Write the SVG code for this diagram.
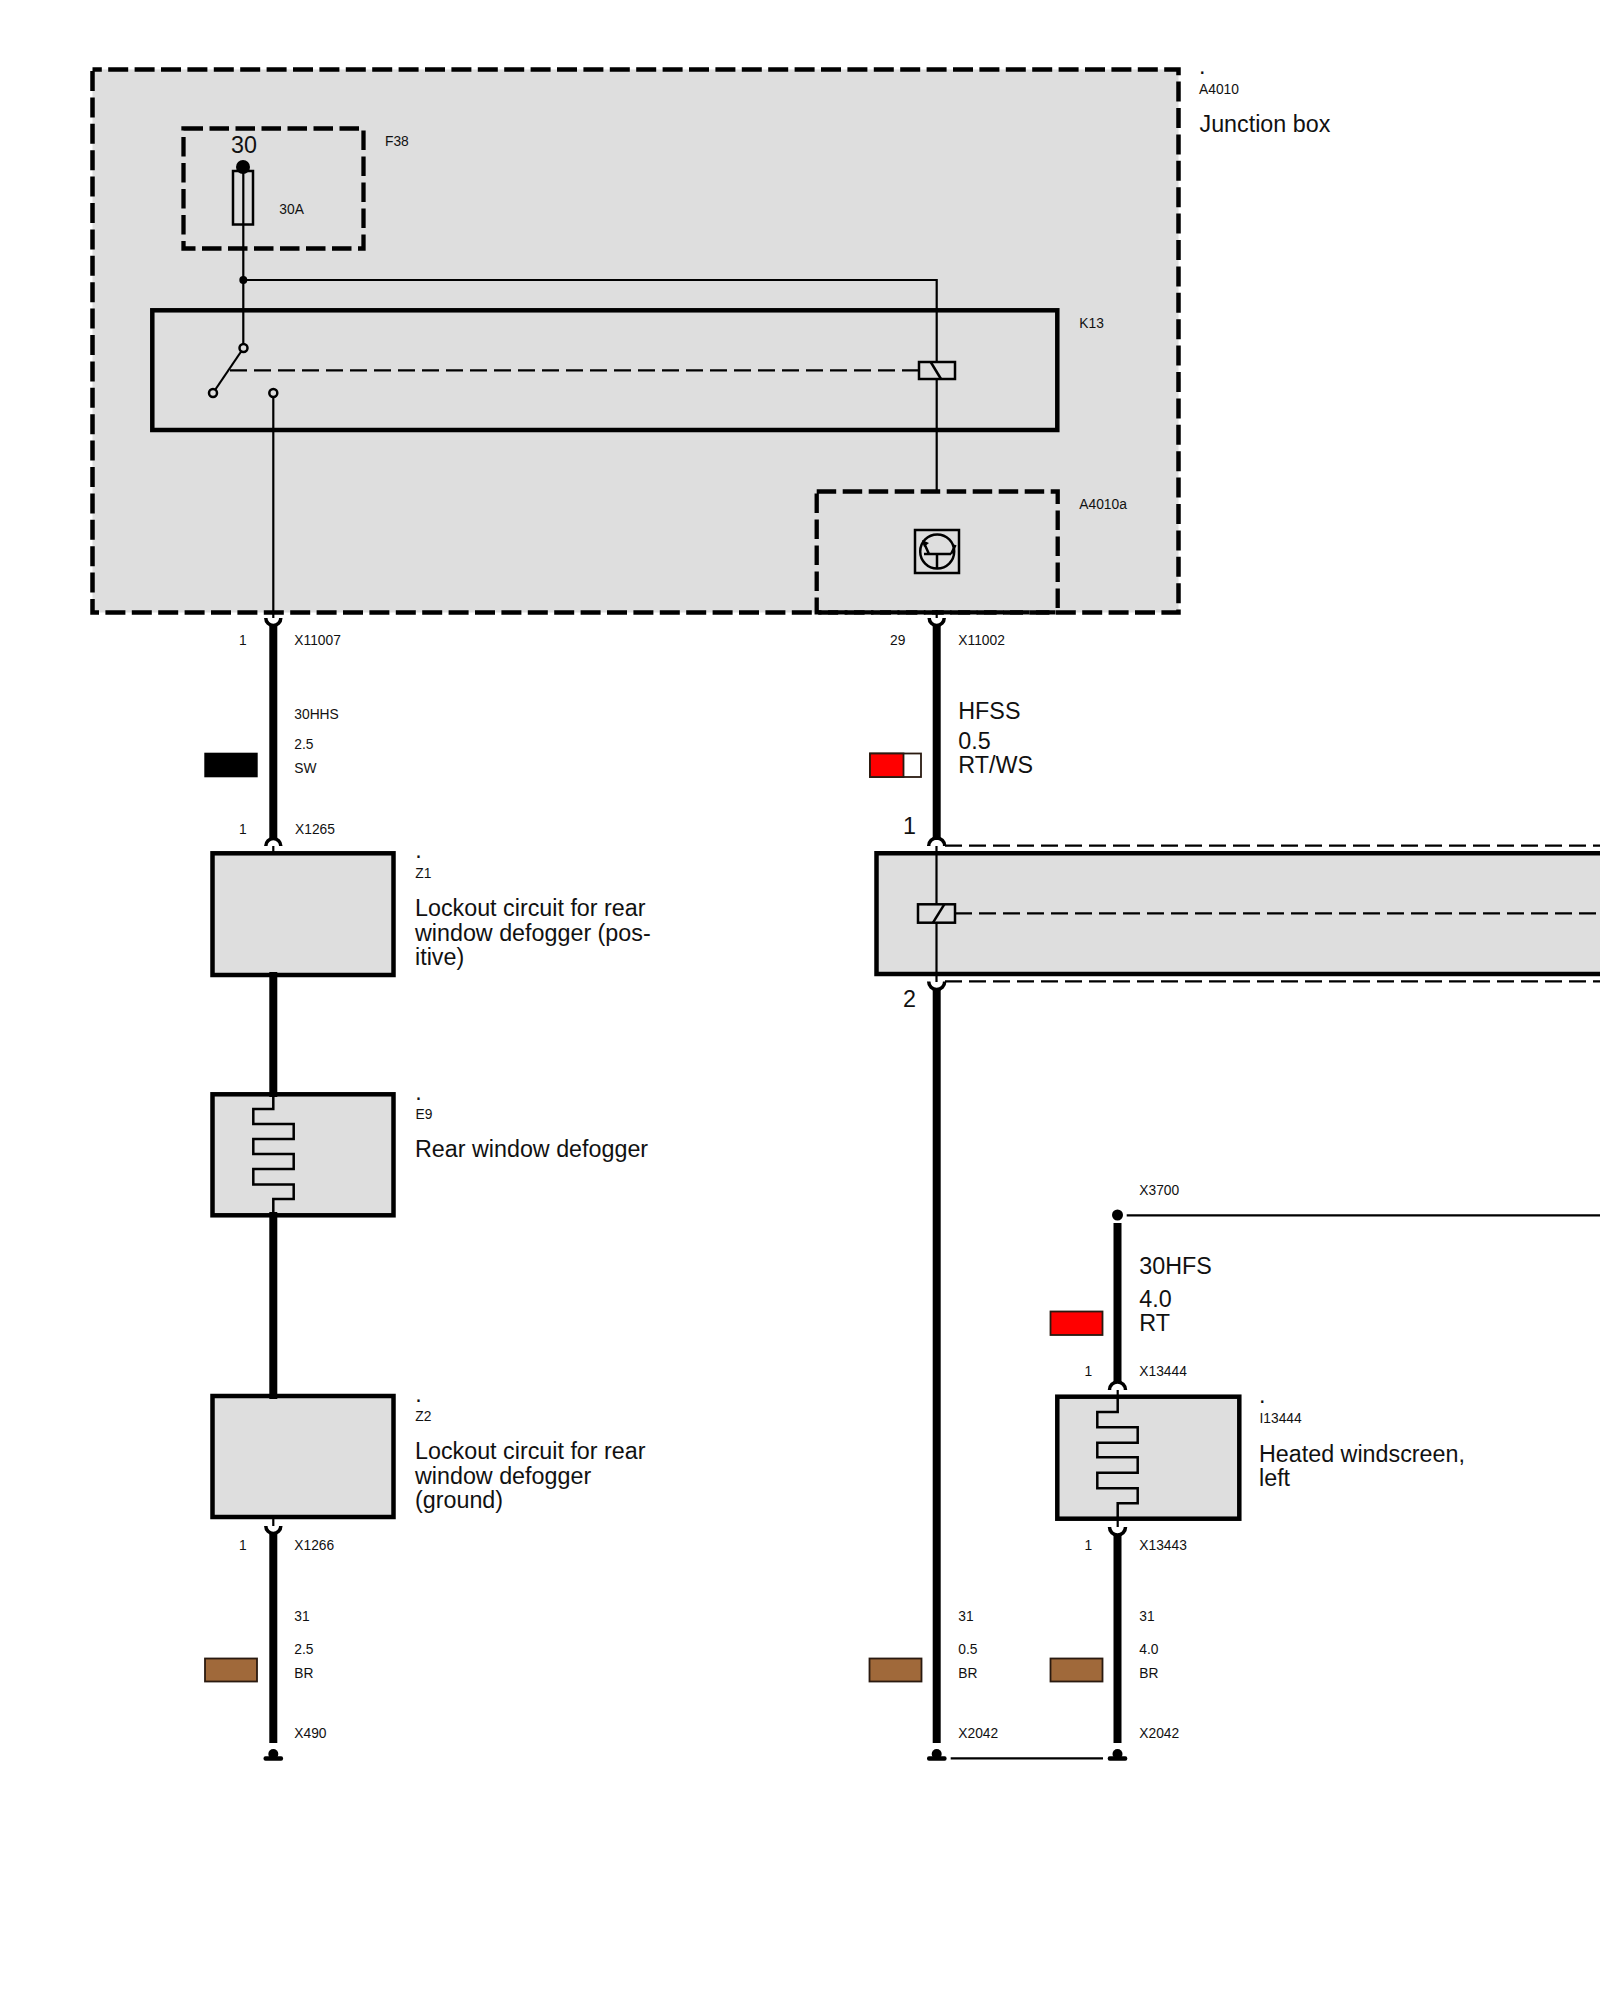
<svg xmlns="http://www.w3.org/2000/svg" width="1600" height="2000" viewBox="0 0 1600 2000">
<style>
text{font-family:"Liberation Sans",Arial,sans-serif;fill:#111}
.s{font-size:13.8px}
.l{font-size:23.3px}
.box{fill:#dedede;stroke:#000;stroke-width:4.5}
.dbox{fill:#dedede;stroke:#000;stroke-width:4.5;stroke-dasharray:20 6.400}
.dbox2{fill:none;stroke:#000;stroke-width:4.300;stroke-dasharray:19.500 6.500}
.thin{fill:none;stroke:#000;stroke-width:2.200}
.thick{fill:none;stroke:#000;stroke-width:8}
.dash{fill:none;stroke:#000;stroke-width:2.200;stroke-dasharray:17 7}
.sock{fill:none;stroke:#000;stroke-width:3.500}
.sym{fill:none;stroke:#000;stroke-width:2.500}
.term{fill:#dedede;stroke:#000;stroke-width:2.500}
.sw{stroke:#2a1a10;stroke-width:1.800}
</style>
<g id="A4010">
<rect class="dbox" x="92.500" y="69.500" width="1086" height="543" stroke-dashoffset="10.700"/>
<text class="l" x="1199" y="74">.</text>
<text class="s" x="1199" y="94">A4010</text>
<text class="l" x="1199.500" y="131.700">Junction box</text>
</g>
<g id="F38">
<rect class="dbox2" x="183.500" y="128.500" width="180" height="120"/>
<text class="l" x="231" y="153">30</text>
<circle cx="243" cy="167" r="7"/>
<rect class="sym" x="233" y="171" width="20" height="53.500"/>
<text class="s" x="279.300" y="214.300">30A</text>
<text class="s" x="385" y="146">F38</text>
</g>
<g id="K13">
<rect class="box" x="152.300" y="310.300" width="905" height="119.700"/>
<text class="s" x="1079.300" y="328">K13</text>
</g>
<g id="A4010a">
<rect class="dbox2" x="816.700" y="491.500" width="241" height="120.800"/>
<text class="s" x="1079.300" y="509">A4010a</text>
<rect class="sym" x="915" y="530" width="44" height="43"/>
<circle class="sym" cx="937.200" cy="551.500" r="17"/>
<path class="sym" d="M924 554H951M937 554V569M951 554L955.500 545M924 543L929 554"/>
<path d="M922 540l7 3-5 4z"/>
</g>
<g id="Z1">
<rect class="box" x="212.500" y="853.300" width="181" height="121.700"/>
<text class="l" x="415.300" y="858">.</text>
<text class="s" x="415.300" y="877.800">Z1</text>
<text class="l" x="415" y="916">Lockout circuit for rear</text>
<text class="l" x="415" y="940.500">window defogger (pos-</text>
<text class="l" x="415" y="965">itive)</text>
</g>
<g id="E9">
<rect class="box" x="212.500" y="1094.300" width="181" height="121"/>
<text class="l" x="415.300" y="1100">.</text>
<text class="s" x="415.500" y="1119">E9</text>
<text class="l" x="415" y="1157.300">Rear window defogger</text>
<path class="sym" d="M273.300 1094V1109H253.300V1124H293.700V1139H253.300V1154H293.700V1169H253.300V1184.500H293.700V1199H273.300V1215"/>
</g>
<g id="Z2">
<rect class="box" x="212.500" y="1396" width="181" height="121"/>
<text class="l" x="415.300" y="1402">.</text>
<text class="s" x="415.300" y="1421">Z2</text>
<text class="l" x="415" y="1459">Lockout circuit for rear</text>
<text class="l" x="415" y="1483.500">window defogger</text>
<text class="l" x="415" y="1508">(ground)</text>
</g>
<g id="K-right">
<path class="box" d="M1600 853.300H876.500V974H1600"/>
</g>
<g id="I13444">
<rect class="box" x="1057.300" y="1396.700" width="182" height="122"/>
<text class="l" x="1259" y="1402.500">.</text>
<text class="s" x="1259.500" y="1423.300">I13444</text>
<text class="l" x="1259" y="1461.700">Heated windscreen,</text>
<text class="l" x="1259" y="1485.500">left</text>
<path class="sym" d="M1117.700 1397V1412H1097.300V1427.300H1137.700V1442.700H1097.300V1457.300H1137.700V1472.700H1097.300V1488.300H1137.700V1503.300H1117.700V1518.700"/>
</g>
<g id="connectors">
<path class="thin" d="M243.300 167V348M243.300 280H936.700V362M936.700 379V491.500"/>
<circle cx="243.300" cy="280" r="4"/>
<path class="thin" d="M243.500 348L213 393"/>
<path class="dash" d="M230 370.300H918"/>
<path class="thin" d="M273.300 393V618"/>
<circle class="term" cx="243.500" cy="348" r="4"/>
<circle class="term" cx="213" cy="393" r="4"/>
<circle class="term" cx="273.300" cy="393" r="4"/>
<rect class="sym" x="919" y="362" width="36" height="17"/>
<path class="sym" d="M930.700 362L941 379"/>
<path class="thin" d="M936.700 610V618"/>
<path class="sock" d="M265.800 618A7.500 7.500 0 0 0 280.800 618"/>
<path class="sock" d="M929.200 618A7.500 7.500 0 0 0 944.200 618"/>
<path class="thick" d="M273.300 625V840"/>
<path class="thick" d="M936.700 625V840"/>
<path class="sock" d="M265.800 846A7.500 7.500 0 0 1 280.800 846"/>
<path class="thin" d="M273.300 846V853"/>
<path class="sock" d="M928.700 846A8 8 0 0 1 944.700 846"/>
<path class="dash" d="M945 845.700H1600"/>
<path class="dash" d="M945 981.300H1600"/>
<path class="thin" d="M936.500 846V904.300M936.500 922.700V982"/>
<rect class="sym" x="918" y="904.300" width="37" height="18.400"/>
<path class="sym" d="M944.300 904.300L933 922.700"/>
<path class="dash" d="M955 913.300H1600"/>
<path class="sock" d="M928.700 981.500A8 8 0 0 0 944.700 981.500"/>
<path class="thick" d="M936.700 988V1743"/>
<path class="thick" d="M273.300 972V1097"/>
<path class="thick" d="M273.300 1212V1399"/>
<path class="thin" d="M273.300 1517V1526"/>
<path class="sock" d="M265.800 1526A7.500 7.500 0 0 0 280.800 1526"/>
<path class="thick" d="M273.300 1533V1743"/>
<circle cx="1117.500" cy="1215" r="5.500"/>
<path class="thin" d="M1126.700 1215.300H1600"/>
<path class="thick" d="M1117.500 1223V1382"/>
<path class="sock" d="M1109.500 1390A8 8 0 0 1 1125.500 1390"/>
<path class="thin" d="M1117.700 1390V1397"/>
<path class="thin" d="M1117.700 1518V1527"/>
<path class="sock" d="M1109.500 1527A8 8 0 0 0 1125.500 1527"/>
<path class="thick" d="M1117.500 1534V1743"/>
<path class="thin" d="M950.700 1758.300H1103"/>
</g>
<g id="grounds">
<g id="X490"><circle cx="273.300" cy="1754" r="5"/><rect x="263.500" y="1756.300" width="19.600" height="4.500" rx="2"/></g>
<g id="X2042a"><circle cx="936.700" cy="1754" r="5"/><rect x="927" y="1756.300" width="19.600" height="4.500" rx="2"/></g>
<g id="X2042b"><circle cx="1117.500" cy="1754" r="5"/><rect x="1107.700" y="1756.300" width="19.600" height="4.500" rx="2"/></g>
</g>
<g id="wire-labels">
<text class="s" x="239" y="645.300">1</text>
<text class="s" x="294.300" y="645.300">X11007</text>
<text class="s" x="294.300" y="719.300">30HHS</text>
<text class="s" x="294.300" y="749.300">2.5</text>
<text class="s" x="294.300" y="773">SW</text>
<rect x="204.300" y="752.700" width="53.400" height="24.600" fill="#000"/>
<text class="s" x="239" y="834.300">1</text>
<text class="s" x="295" y="834.300">X1265</text>
<text class="s" x="890" y="645.300">29</text>
<text class="s" x="958.300" y="645.300">X11002</text>
<text class="l" x="958.300" y="718.500">HFSS</text>
<text class="l" x="958.300" y="749">0.5</text>
<text class="l" x="958.300" y="772.700">RT/WS</text>
<rect class="sw" x="870" y="753.500" width="51" height="23.500" fill="#fff"/>
<rect class="sw" x="870" y="753.500" width="33.500" height="23.500" fill="#f00"/>
<text class="l" x="903" y="834">1</text>
<text class="l" x="903" y="1007">2</text>
<text class="s" x="239" y="1550">1</text>
<text class="s" x="294.300" y="1550">X1266</text>
<text class="s" x="294.300" y="1621">31</text>
<text class="s" x="294.300" y="1654">2.5</text>
<text class="s" x="294.300" y="1678.300">BR</text>
<rect class="sw" x="205" y="1658.500" width="52" height="23" fill="#a0693a"/>
<text class="s" x="294.300" y="1738">X490</text>
<text class="s" x="958.300" y="1621">31</text>
<text class="s" x="958.300" y="1654">0.5</text>
<text class="s" x="958.300" y="1678.300">BR</text>
<rect class="sw" x="869.500" y="1658.500" width="52" height="23" fill="#a0693a"/>
<text class="s" x="958.300" y="1738">X2042</text>
<text class="s" x="1139.300" y="1195">X3700</text>
<text class="l" x="1139.300" y="1274">30HFS</text>
<text class="l" x="1139.300" y="1306.700">4.0</text>
<text class="l" x="1139.300" y="1330.700">RT</text>
<rect class="sw" x="1050.500" y="1311.500" width="52" height="23.500" fill="#f00"/>
<text class="s" x="1084.500" y="1376">1</text>
<text class="s" x="1139.300" y="1376">X13444</text>
<text class="s" x="1084.500" y="1550">1</text>
<text class="s" x="1139.300" y="1550">X13443</text>
<text class="s" x="1139.300" y="1621">31</text>
<text class="s" x="1139.300" y="1654">4.0</text>
<text class="s" x="1139.300" y="1678.300">BR</text>
<rect class="sw" x="1050.500" y="1658.500" width="52" height="23" fill="#a0693a"/>
<text class="s" x="1139.300" y="1738">X2042</text>
</g>
</svg>
